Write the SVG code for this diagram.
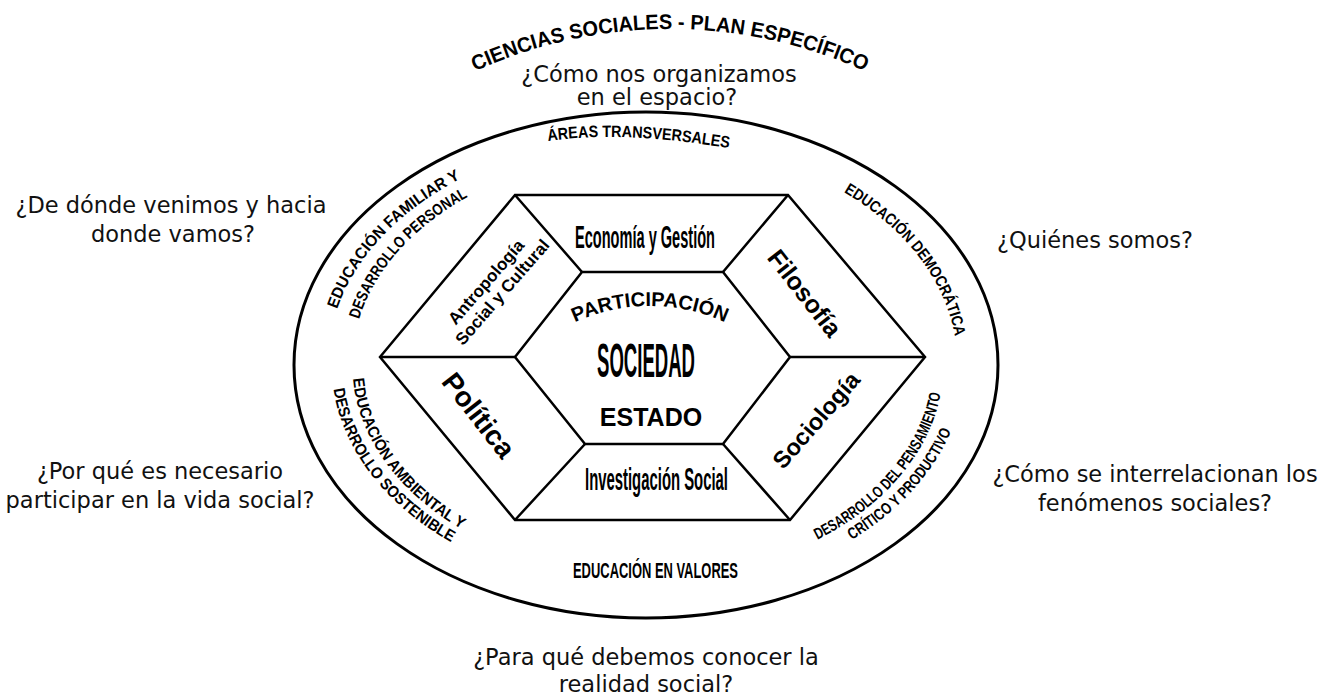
<svg xmlns="http://www.w3.org/2000/svg" width="1334" height="697" viewBox="0 0 1334 697">
<style>
.q{font-family:"DejaVu Sans","Liberation Sans",sans-serif;font-size:22.5px;fill:#111;text-anchor:middle}
.b{font-family:"Liberation Sans",Arial,sans-serif;font-weight:bold;fill:#000}
.band{font-size:16px}
.ln{fill:none;stroke:#000;stroke-width:2.5;stroke-linejoin:miter}
.el{fill:none;stroke:#000;stroke-width:3}
</style>
<defs>
<path id="p-title" d="M400.4,114 A470,470 0 0 1 939.6,114"/>
<path id="p-part" d="M534.3,348.1 A180,180 0 0 1 765.7,348.1"/>
<path id="p-areas" d="M548,141 Q628,129.5 745,151"/>
<path id="p-demo" d="M843.7,192 A311.5,223.9 0 0 1 952.8,403.9"/>
<path id="p-fam1" d="M337,309.2 A318.6,229 0 0 1 537,149.8"/>
<path id="p-fam2" d="M359.1,319.3 A293.9,211.3 0 0 1 545.5,166.4"/>
<path id="p-amb1" d="M353,378.6 A293.6,211 0 0 0 545.6,563.3"/>
<path id="p-amb2" d="M333.5,389 A314.3,225.9 0 0 0 538.5,577.3"/>
<path id="p-pen1" d="M817.4,539.7 A297.4,213.8 0 0 0 938.9,327.9"/>
<path id="p-pen2" d="M851.7,539.9 A318.6,229 0 0 0 959.8,325.2"/>
</defs>
<rect width="1334" height="697" fill="#fff"/>

<g id="title">
<text class="b" font-size="21"><textPath href="#p-title" startOffset="50%" text-anchor="middle" textLength="402" lengthAdjust="spacingAndGlyphs">CIENCIAS SOCIALES - PLAN ESPECÍFICO</textPath></text>
</g>

<g id="connectors">
<ellipse class="el" cx="646" cy="365" rx="352" ry="253"/>
<path class="ln" d="M380,357 L515,195 L788,195 L925,357 L790,520 L515,520 Z"/>
<path class="ln" d="M515,357 L582,272 L723,272 L790,357 L723,444 L585,444 Z"/>
<path class="ln" d="M380,357 H515 M515,195 L582,272 M788,195 L723,272 M925,357 H790 M790,520 L723,444 M515,520 L585,444"/>
</g>

<g id="q-espacio">
<text class="q" x="659" y="82">¿Cómo nos organizamos</text>
<text class="q" x="657" y="105">en el espacio?</text>
</g>
<g id="q-venimos">
<text class="q" x="171" y="213">¿De dónde venimos y hacia</text>
<text class="q" x="173" y="242">donde vamos?</text>
</g>
<g id="q-somos">
<text class="q" x="1095" y="248">¿Quiénes somos?</text>
</g>
<g id="q-participar">
<text class="q" x="160" y="479">¿Por qué es necesario</text>
<text class="q" x="160" y="508">participar en la vida social?</text>
</g>
<g id="q-fenomenos">
<text class="q" x="1155" y="482">¿Cómo se interrelacionan los</text>
<text class="q" x="1155" y="511">fenómenos sociales?</text>
</g>
<g id="q-realidad">
<text class="q" x="646" y="665">¿Para qué debemos conocer la</text>
<text class="q" x="646" y="692">realidad social?</text>
</g>

<g id="band-areas">
<text class="b" font-size="16.5"><textPath href="#p-areas" textLength="182" lengthAdjust="spacingAndGlyphs">ÁREAS TRANSVERSALES</textPath></text>
</g>
<g id="band-democratica">
<text class="b band"><textPath href="#p-demo" textLength="188" lengthAdjust="spacingAndGlyphs">EDUCACIÓN DEMOCRÁTICA</textPath></text>
</g>
<g id="band-familiar">
<text class="b band"><textPath href="#p-fam1" textLength="184" lengthAdjust="spacingAndGlyphs">EDUCACIÓN FAMILIAR Y</textPath></text>
<text class="b band"><textPath href="#p-fam2" textLength="168" lengthAdjust="spacingAndGlyphs">DESARROLLO PERSONAL</textPath></text>
</g>
<g id="band-ambiental">
<text class="b band"><textPath href="#p-amb1" textLength="193" lengthAdjust="spacingAndGlyphs">EDUCACIÓN AMBIENTAL Y</textPath></text>
<text class="b band"><textPath href="#p-amb2" textLength="200" lengthAdjust="spacingAndGlyphs">DESARROLLO SOSTENIBLE</textPath></text>
</g>
<g id="band-pensamiento">
<text class="b band"><textPath href="#p-pen1" textLength="198" lengthAdjust="spacingAndGlyphs">DESARROLLO DEL PENSAMIENTO</textPath></text>
<text class="b band"><textPath href="#p-pen2" textLength="150" lengthAdjust="spacingAndGlyphs">CRÍTICO Y PRODUCTIVO</textPath></text>
</g>
<g id="band-valores">
<text class="b" font-size="22" x="573" y="578" textLength="165" lengthAdjust="spacingAndGlyphs">EDUCACIÓN EN VALORES</text>
</g>

<g id="node-economia">
<text class="b" font-size="32" x="575" y="248" textLength="140" lengthAdjust="spacingAndGlyphs">Economía y Gestión</text>
</g>
<g id="node-investigacion">
<text class="b" font-size="32" x="585" y="490" textLength="143" lengthAdjust="spacingAndGlyphs">Investigación Social</text>
</g>
<g id="node-filosofia">
<text class="b" font-size="25" text-anchor="middle" transform="translate(805,293) rotate(52)" y="9">Filosofía</text>
</g>
<g id="node-politica">
<text class="b" font-size="28" text-anchor="middle" transform="translate(479,415) rotate(52)" y="10">Política</text>
</g>
<g id="node-sociologia">
<text class="b" font-size="23.5" text-anchor="middle" transform="translate(816,420) rotate(-49)" y="8.4">Sociología</text>
</g>
<g id="node-antropologia">
<text class="b" font-size="17" text-anchor="middle" transform="translate(493,288) rotate(-49)"><tspan x="0" y="-3.4">Antropología</tspan><tspan x="3" y="15.6">Social y Cultural</tspan></text>
</g>
<g id="node-centro">
<text class="b" font-size="20"><textPath href="#p-part" startOffset="50%" text-anchor="middle">PARTICIPACIÓN</textPath></text>
<text class="b" font-size="48" x="597" y="377" textLength="98" lengthAdjust="spacingAndGlyphs">SOCIEDAD</text>
<text class="b" font-size="25" x="651" y="426" text-anchor="middle">ESTADO</text>
</g>
</svg>
